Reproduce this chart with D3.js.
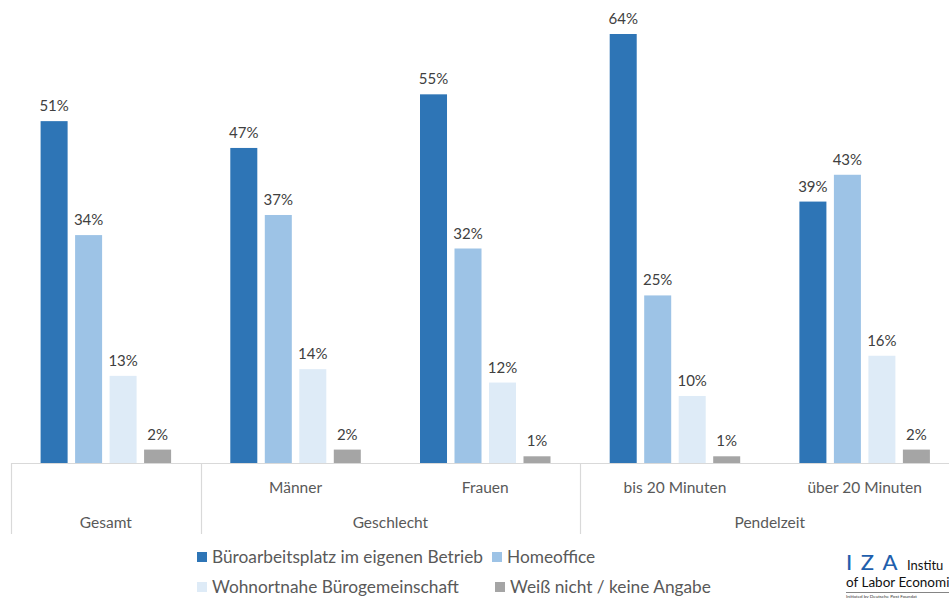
<!DOCTYPE html>
<html>
<head>
<meta charset="utf-8">
<script src="https://cdn.jsdelivr.net/npm/d3@7"></script>
<style>
  html, body { margin: 0; padding: 0; background: #fff; overflow: hidden; }
  svg { display: block; font-family: Lato, "Noto Sans", sans-serif; }
  .value-label { font-size: 15px; fill: #404040; text-anchor: middle; }
  .cat-label { font-size: 15.5px; fill: #595959; text-anchor: middle; }
  .legend-label { font-size: 17.3px; fill: #595959; }
</style>
</head>
<body>
<div id="chart"></div>
<script>
// Chart values
const categories = ["Gesamt", "Männer", "Frauen", "bis 20 Minuten", "über 20 Minuten"];
const groupLabels = ["", "Geschlecht", "Geschlecht", "Pendelzeit", "Pendelzeit"];
const seriesNames = [
  "Büroarbeitsplatz im eigenen Betrieb",
  "Homeoffice",
  "Wohnortnahe Bürogemeinschaft",
  "Weiß nicht / keine Angabe"
];
const bueroValues = [51, 47, 55, 64, 39];
const homeofficeValues = [34, 37, 32, 25, 43];
const wohnortValues = [13, 14, 12, 10, 16];
const weissNichtValues = [2, 2, 1, 1, 2];

const seriesValues = [bueroValues, homeofficeValues, wohnortValues, weissNichtValues];
const colors = ["#2E75B6", "#9DC3E6", "#DEEBF7", "#A5A5A5"];

const width = 949;
const height = 598;
const baseline = 463;
const left = 11;
const bandStep = 189.7;

const svg = d3.select("#chart")
  .append("svg")
  .attr("width", width)
  .attr("height", height);

const x = d3.scaleBand()
  .domain(categories)
  .range([left, left + bandStep * categories.length])
  .padding(0);

const xInner = d3.scaleBand()
  .domain(seriesNames)
  .range([0, x.bandwidth()])
  .paddingInner(0.217)
  .paddingOuter(0.858);

const y = d3.scaleLinear()
  .domain([0, 64])
  .range([baseline, 34]);

// flatten to one record per bar
const bars = [];
seriesNames.forEach((s, si) => {
  categories.forEach((c, ci) => {
    bars.push({ series: s, cat: c, value: seriesValues[si][ci], color: colors[si] });
  });
});

svg.selectAll(".bar")
  .data(bars)
  .join("rect")
  .attr("class", "bar")
  .attr("x", d => x(d.cat) + xInner(d.series))
  .attr("y", d => y(d.value))
  .attr("width", xInner.bandwidth())
  .attr("height", d => y(0) - y(d.value))
  .attr("fill", d => d.color);

svg.selectAll(".value-label")
  .data(bars)
  .join("text")
  .attr("class", "value-label")
  .attr("x", d => x(d.cat) + xInner(d.series) + xInner.bandwidth() / 2)
  .attr("y", d => y(d.value) - 10)
  .text(d => `${d.value}%`);

// axis line
svg.append("line")
  .attr("x1", left)
  .attr("x2", width)
  .attr("y1", baseline + 0.5)
  .attr("y2", baseline + 0.5)
  .attr("stroke", "#D9D9D9")
  .attr("stroke-width", 1.2);

// group separators: left edge, plus where the group label changes
const separators = [x(categories[0])];
categories.forEach((c, i) => {
  if (i > 0 && groupLabels[i] !== groupLabels[i - 1]) separators.push(x(c));
});
separators.push(x(categories[categories.length - 1]) + x.bandwidth());

svg.selectAll(".sep")
  .data(separators)
  .join("line")
  .attr("class", "sep")
  .attr("x1", d => Math.round(d) + 0.5)
  .attr("x2", d => Math.round(d) + 0.5)
  .attr("y1", baseline)
  .attr("y2", 534)
  .attr("stroke", "#D9D9D9")
  .attr("stroke-width", 1.2);

// first row of category labels (Gesamt sits in the second row)
svg.selectAll(".cat-label.inner")
  .data(categories.filter((c, i) => groupLabels[i] !== ""))
  .join("text")
  .attr("class", "cat-label inner")
  .attr("x", d => x(d) + x.bandwidth() / 2)
  .attr("y", 493)
  .text(d => d);

// second row: group labels, centred over their categories
const groups = [];
categories.forEach((c, i) => {
  const name = groupLabels[i] === "" ? c : groupLabels[i];
  const last = groups[groups.length - 1];
  if (last && last.name === name && groupLabels[i] !== "") {
    last.x1 = x(c) + x.bandwidth();
  } else {
    groups.push({ name, x0: x(c), x1: x(c) + x.bandwidth() });
  }
});

svg.selectAll(".cat-label.group")
  .data(groups)
  .join("text")
  .attr("class", "cat-label group")
  .attr("x", d => (d.x0 + d.x1) / 2)
  .attr("y", 528)
  .text(d => d.name);

// legend, two rows of two entries
const legendPos = [[197, 557], [492, 557], [197, 587], [495, 587]];
const legend = svg.selectAll(".legend-item")
  .data(seriesNames)
  .join("g")
  .attr("class", "legend-item")
  .attr("transform", (d, i) => `translate(${legendPos[i][0]}, ${legendPos[i][1]})`);

legend.append("rect")
  .attr("x", 0)
  .attr("y", -5)
  .attr("width", 10)
  .attr("height", 10)
  .attr("fill", (d, i) => colors[i]);

legend.append("text")
  .attr("class", "legend-label")
  .attr("x", 15)
  .attr("y", 6)
  .text(d => d);

// IZA logo text; the source picture cuts it at the right edge
const logo = svg.append("g").attr("transform", "translate(846, 0)");
logo.append("text")
  .attr("x", 0)
  .attr("y", 570)
  .attr("fill", "#1F5FAD")
  .attr("font-size", 22)
  .attr("font-weight", 500)
  .attr("letter-spacing", 8.5)
  .text("IZA");
logo.append("text")
  .attr("x", 61)
  .attr("y", 570)
  .attr("fill", "#111")
  .attr("font-size", 13)
  .text("Institu");
logo.append("text")
  .attr("x", 0)
  .attr("y", 587)
  .attr("fill", "#111")
  .attr("font-size", 13.5)
  .text("of Labor Economi");
logo.append("line")
  .attr("x1", 0)
  .attr("x2", 103)
  .attr("y1", 592.5)
  .attr("y2", 592.5)
  .attr("stroke", "#333")
  .attr("stroke-width", 0.6);
logo.append("text")
  .attr("x", 0)
  .attr("y", 597.5)
  .attr("fill", "#333")
  .attr("font-size", 4.6)
  .text("Initiated by Deutsche Post Foundat");
</script>
</body>
</html>
